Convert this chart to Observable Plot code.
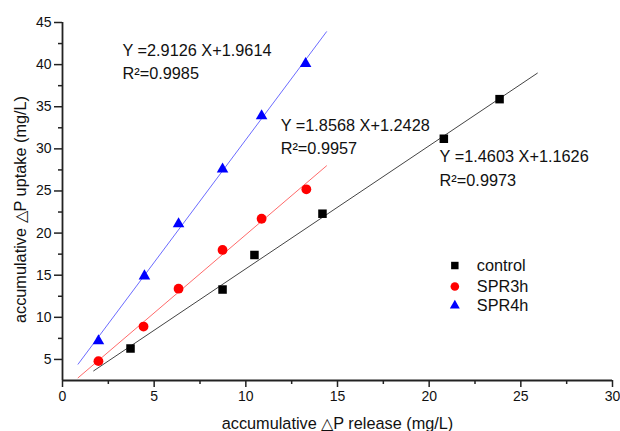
<!DOCTYPE html>
<html>
<head>
<meta charset="utf-8">
<script src="https://cdn.jsdelivr.net/npm/d3@7"></script>
<script src="https://cdn.jsdelivr.net/npm/@observablehq/plot@0.6"></script>
<style>
  html, body { margin: 0; padding: 0; background: #ffffff; }
  #chart svg { display: block; }
</style>
</head>
<body>
<div id="chart"></div>
<script>
// ---------- data ----------
const seriesNames = ["control", "SPR3h", "SPR4h"];
const seriesColors = ["#000000", "#ff0000", "#0000ff"];
const lineColors = ["#444444", "#ff6a6a", "#6b6bff"];
const seriesSymbols = ["square", "circle", "triangle"];

const controlX = [3.71, 8.73, 10.47, 14.18, 20.8, 23.84];
const controlY = [6.3, 13.3, 17.4, 22.3, 31.2, 35.9];
const spr3hX = [1.96, 4.42, 6.33, 8.73, 10.86, 13.3];
const spr3hY = [4.8, 8.9, 13.4, 18.0, 21.7, 25.2];
const spr4hX = [1.96, 4.47, 6.33, 8.73, 10.86, 13.26];
const spr4hY = [7.2, 14.9, 21.1, 27.6, 33.9, 40.1];

const fitSlope = [1.4603, 1.8568, 2.9126];
const fitIntercept = [1.1626, 1.2428, 1.9614];
const fitR2 = ["0.9973", "0.9957", "0.9985"];
const fitXStart = [1.7, 0.85, 0.85];
const fitXEnd = [25.9, 14.4, 14.4];

const xTicks = [0, 5, 10, 15, 20, 25, 30];
const yTicks = [5, 10, 15, 20, 25, 30, 35, 40, 45];
const xLabel = "accumulative \u25B3P release (mg/L)";
const yLabel = "accumulative \u25B3P uptake (mg/L)";

// ---------- layout (positions in data units) ----------
const annotPos = [ // [x, y of equation line, y of R2 line]
  [20.57, 29.09, 26.24],
  [11.9, 32.77, 30.04],
  [3.27, 41.67, 38.94]
];
const legendX = 21.4, legendTextX = 22.6, legendY = [16.15, 13.66, 11.4];
const dotR = [4.8, 4.9, 4.3];

// ---------- build ----------
const allX = [controlX, spr3hX, spr4hX];
const allY = [controlY, spr3hY, spr4hY];
const points = seriesNames.map((s, i) => allX[i].map((x, j) => ({series: s, i, x, y: allY[i][j]})));
const fits = seriesNames.map((s, i) => [fitXStart[i], fitXEnd[i]].map(x => ({series: s, i, x, y: fitSlope[i] * x + fitIntercept[i]})));
const eqRows = seriesNames.map((s, i) => ({i, x: annotPos[i][0], y: annotPos[i][1], text: `Y =${fitSlope[i].toFixed(4)} X+${fitIntercept[i].toFixed(4)}`}));
const r2Rows = seriesNames.map((s, i) => ({i, x: annotPos[i][0], y: annotPos[i][2], text: `R\u00B2=${fitR2[i]}`}));
const legendRows = seriesNames.map((s, i) => ({i, name: s, y: legendY[i]}));

const font = "'Liberation Sans', Arial, Helvetica, sans-serif";
const minorX = d3.range(2.5, 30, 5);
const minorY = d3.range(7.5, 45, 5);
const textSize = 16.3;

const marks = [];
// fit lines
fits.forEach((f, i) => marks.push(Plot.line(f, {x: "x", y: "y", stroke: lineColors[i], strokeWidth: 1})));
// points
points.forEach((p, i) => marks.push(Plot.dot(p, {x: "x", y: "y", symbol: () => seriesSymbols[i], fill: seriesColors[i], stroke: "none", r: dotR[i]})));
// annotations
marks.push(Plot.text(eqRows, {x: "x", y: "y", text: "text", textAnchor: "start", fontSize: textSize, fill: "#111"}));
marks.push(Plot.text(r2Rows, {x: "x", y: "y", text: "text", textAnchor: "start", fontSize: textSize, fill: "#111"}));
// legend
legendRows.forEach((r, i) => marks.push(Plot.dot([r], {x: () => legendX, y: "y", symbol: () => seriesSymbols[i], fill: seriesColors[i], stroke: "none", r: dotR[i] - 0.6})));
marks.push(Plot.text(legendRows, {x: () => legendTextX, y: "y", text: "name", textAnchor: "start", fontSize: textSize, fill: "#111"}));
// axes
marks.push(Plot.axisX({ticks: xTicks, tickSize: 7, tickPadding: 4, tickFormat: d => String(d), fontSize: 14, label: null, stroke: "#222", strokeWidth: 1.5}));
marks.push(Plot.axisX({ticks: minorX, tickSize: 4, text: null, label: null, stroke: "#222", strokeWidth: 1.5}));
marks.push(Plot.axisY({ticks: yTicks, tickSize: 8, tickPadding: 3, tickFormat: d => String(d), fontSize: 14, label: null, stroke: "#222", strokeWidth: 1.5}));
marks.push(Plot.axisY({ticks: minorY, tickSize: 4, text: null, label: null, stroke: "#222", strokeWidth: 1.5}));
marks.push(Plot.ruleX([0], {stroke: "#222", strokeWidth: 1.8}));
marks.push(Plot.ruleY([2.5], {stroke: "#222", strokeWidth: 1.8}));
// axis titles
marks.push(Plot.text([xLabel], {frameAnchor: "bottom", dy: 43, text: d => d, fontSize: textSize, fill: "#111", textAnchor: "middle", lineAnchor: "middle"}));
marks.push(Plot.text([yLabel], {frameAnchor: "left", dx: -42, dy: 8, rotate: -90, text: d => d, fontSize: textSize, fill: "#111", textAnchor: "middle", lineAnchor: "middle"}));

const chart = Plot.plot({
  width: 620,
  height: 431,
  marginLeft: 62,
  marginRight: 8,
  marginTop: 22,
  marginBottom: 51,
  x: {domain: [0, 30]},
  y: {domain: [2.5, 45]},
  style: {fontFamily: font, background: "#ffffff", color: "#111"},
  marks
});
document.getElementById("chart").appendChild(chart);
</script>
</body>
</html>
